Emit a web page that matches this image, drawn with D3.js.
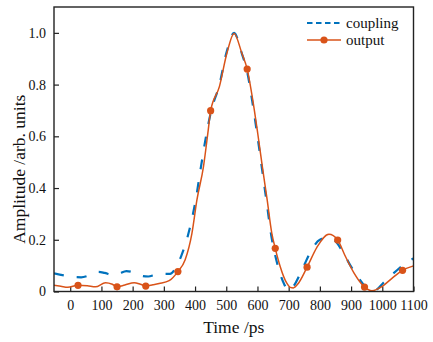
<!DOCTYPE html>
<html>
<head>
<meta charset="utf-8">
<script src="https://cdn.jsdelivr.net/npm/d3@7"></script>
<style>
  html, body { margin: 0; padding: 0; background: #fff; }
  svg { display: block; }
  text { font-family: "Liberation Serif", "Times New Roman", serif; fill: #111; }
</style>
</head>
<body>
<svg id="chart" width="433" height="342"></svg>
<script>
// ---- data ----
const couplingTime = [-52, -20, 10, 35, 60, 90, 110, 135, 155, 180, 205, 230, 250, 275, 300, 320, 335, 355, 379, 402, 419, 437, 450, 478, 502, 525, 550, 567, 584, 600, 615, 630, 645, 655, 666, 685, 700, 715, 745, 773, 800, 827, 845, 875, 898, 920, 945, 967, 985, 1003, 1048, 1075, 1100];
const couplingVals = [0.070, 0.062, 0.056, 0.055, 0.062, 0.076, 0.072, 0.064, 0.068, 0.079, 0.073, 0.060, 0.058, 0.066, 0.068, 0.068, 0.085, 0.135, 0.225, 0.354, 0.483, 0.612, 0.690, 0.800, 0.930, 1.000, 0.920, 0.850, 0.730, 0.600, 0.470, 0.340, 0.210, 0.150, 0.096, 0.030, 0.004, 0.020, 0.090, 0.160, 0.200, 0.208, 0.200, 0.150, 0.100, 0.060, 0.020, 0.000, 0.010, 0.033, 0.083, 0.110, 0.128];

const outputTime = [-52, -30, -8, 25, 55, 81, 113, 135, 150, 175, 205, 225, 242, 265, 285, 317, 345, 368, 390, 406, 427, 441, 450, 478, 502, 525, 550, 567, 585, 601, 616, 631, 646, 657, 673, 694, 705, 715, 730, 759, 790, 829, 857, 880, 910, 943, 967, 1000, 1030, 1065, 1100];
const outputVals = [0.024, 0.020, 0.016, 0.024, 0.022, 0.018, 0.034, 0.028, 0.018, 0.025, 0.034, 0.028, 0.021, 0.026, 0.031, 0.042, 0.077, 0.122, 0.225, 0.354, 0.483, 0.612, 0.699, 0.792, 0.921, 0.998, 0.921, 0.860, 0.740, 0.610, 0.480, 0.355, 0.225, 0.167, 0.096, 0.032, 0.016, 0.014, 0.030, 0.094, 0.170, 0.221, 0.199, 0.140, 0.070, 0.017, 0.003, 0.020, 0.050, 0.082, 0.099];

const markerTime = [25, 150, 242, 345, 450, 567, 657, 759, 857, 943, 1065];
const markerVals = [0.024, 0.018, 0.021, 0.077, 0.699, 0.860, 0.167, 0.094, 0.199, 0.017, 0.082];

const xTicks = [0, 100, 200, 300, 400, 500, 600, 700, 800, 900, 1000, 1100];
const yTicks = [0, 0.2, 0.4, 0.6, 0.8, 1.0];
const seriesNames = ["coupling", "output"];

// ---- layout ----
const BLUE = "#0072BD", RED = "#D95319";
const SERIF = '"Liberation Serif", "Times New Roman", serif';
const L = 54, R = 413.5, T = 7, B = 291.5;
const svg = d3.select("#chart");
const x = d3.scaleLinear().domain([-52, 1100]).range([L, R]);
const y = d3.scaleLinear().domain([0, 1.1]).range([B, T]);

svg.append("clipPath").attr("id", "clip")
  .append("rect").attr("x", L).attr("y", T).attr("width", R - L).attr("height", B - T);

// axes (ticks inward)
const xAxis = d3.axisBottom(x).tickValues(xTicks).tickSizeInner(-5).tickSizeOuter(0)
  .tickPadding(9).tickFormat(d3.format("d"));
const gx = svg.append("g").attr("transform", `translate(0,${B})`).call(xAxis);
const yAxis = d3.axisLeft(y).tickValues(yTicks).tickSizeInner(-5).tickSizeOuter(0)
  .tickPadding(8).tickFormat(d => d === 0 ? "0" : d3.format(".1f")(d));
const gy = svg.append("g").attr("transform", `translate(${L},0)`).call(yAxis);
[gx, gy].forEach(g => {
  g.attr("font-family", SERIF).attr("font-size", 14);
  g.select(".domain").remove();
  g.selectAll(".tick line").attr("stroke", "#222").attr("stroke-width", 1.2);
  g.selectAll(".tick text").attr("fill", "#111")
    .style("font-size", "14px").style("font-family", SERIF);
});

// lines
const lineGen = d3.line().x(d => x(d[0])).y(d => y(d[1])).curve(d3.curveMonotoneX);
const plot = svg.append("g").attr("clip-path", "url(#clip)");
plot.append("path")
  .datum(couplingTime.map((t, i) => [t, couplingVals[i]]))
  .attr("d", lineGen).attr("fill", "none").attr("stroke", BLUE)
  .attr("stroke-width", 2.2).attr("stroke-dasharray", "10,13");
plot.append("path")
  .datum(outputTime.map((t, i) => [t, outputVals[i]]))
  .attr("d", lineGen).attr("fill", "none").attr("stroke", RED)
  .attr("stroke-width", 1.5);
plot.selectAll("circle.m")
  .data(markerTime.map((t, i) => [t, markerVals[i]]))
  .join("circle").attr("class", "m")
  .attr("cx", d => x(d[0])).attr("cy", d => y(d[1])).attr("r", 3.6).attr("fill", RED);

// frame
svg.append("rect").attr("x", L).attr("y", T).attr("width", R - L).attr("height", B - T)
  .attr("fill", "none").attr("stroke", "#222").attr("stroke-width", 1.4);

// legend
const lg = svg.append("g");
lg.append("line").attr("x1", 307).attr("x2", 341).attr("y1", 23).attr("y2", 23)
  .attr("stroke", BLUE).attr("stroke-width", 2).attr("stroke-dasharray", "5.5,3.5");
lg.append("text").attr("x", 346).attr("y", 27.5).style("font-size", "15px").text(seriesNames[0]);
lg.append("line").attr("x1", 307).attr("x2", 341).attr("y1", 40).attr("y2", 40)
  .attr("stroke", RED).attr("stroke-width", 1.5);
lg.append("circle").attr("cx", 324).attr("cy", 40).attr("r", 3.6).attr("fill", RED);
lg.append("text").attr("x", 346).attr("y", 44.5).style("font-size", "15px").text(seriesNames[1]);

// axis titles
svg.append("text").attr("x", (L + R) / 2).attr("y", 333).attr("text-anchor", "middle")
  .style("font-size", "17.5px").text("Time /ps");
svg.append("text").attr("transform", `translate(25,${(T + B) / 2 + 20}) rotate(-90)`)
  .attr("text-anchor", "middle").style("font-size", "17.5px").text("Amplitude /arb. units");
</script>
</body>
</html>
